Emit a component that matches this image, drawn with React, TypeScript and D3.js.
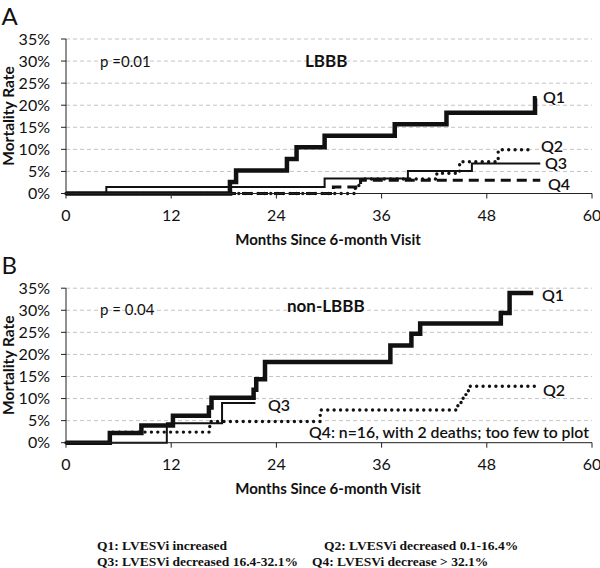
import React from "react";
import * as d3 from "d3";

// ---------- data (months, mortality %) ----------
const monthTicks = [0, 12, 24, 36, 48, 60];
const pctTicks = [0, 5, 10, 15, 20, 25, 30, 35];

// Panel A (LBBB)
const aQ1 = [[0, 0], [18.7, 2.6], [19.4, 5.2], [25.2, 7.8], [26.3, 10.5], [29.5, 13.1], [37.5, 15.7], [43.4, 18.3], [53.5, 21.6], [53.7, 21.6]];
const aQ2 = [[0, 0], [33.0, 1.8], [33.6, 3.3], [42.3, 4.6], [44.9, 7.2], [49.3, 9.9], [53.3, 9.9]];
const aQ3 = [[0, 0], [4.6, 1.5], [29.5, 3.4], [39.0, 5.1], [46.3, 6.8], [54.1, 6.8]];
const aQ4 = [[0, 0], [30.5, 1.5], [33.6, 3.0], [54.1, 3.0]];

// Panel B (non-LBBB)
const bQ1 = [[0, 0], [5.0, 2.2], [8.6, 3.9], [12.2, 6.1], [16.3, 8.0], [16.6, 10.2], [21.4, 12.0], [21.7, 14.4], [22.7, 18.3], [37.0, 22.0], [39.4, 24.7], [40.4, 27.0], [49.6, 29.4], [50.6, 33.9], [53.3, 33.9]];
const bQ2 = [[0, 0], [5.0, 2.4], [16.4, 4.8], [29.0, 7.4], [44.7, 9.1], [45.3, 10.9], [45.9, 12.8], [53.7, 12.8]];
const bQ3 = [[0, 0], [11.5, 4.4], [17.8, 9.0], [21.6, 9.0]];

const legendLines = [
  ["Q1: LVESVi increased", "Q2: LVESVi decreased 0.1-16.4%"],
  ["Q3: LVESVi decreased 16.4-32.1%", "Q4: LVESVi decrease > 32.1%"],
];

const SANS = "Lato, 'Open Sans', sans-serif";
const SERIF = "'Liberation Serif', 'Times New Roman', serif";

type Series = { data: number[][]; kind: "thick" | "thin" | "dot" | "dash" };

function Panel({ top, letter, pText, title, series, labels, note }: any) {
  const x = d3.scaleLinear().domain([0, 60]).range([66, 592]);
  const y = d3.scaleLinear().domain([0, 35]).range([top, top - 154.5]);
  const line = d3
    .line<number[]>()
    .x((d) => x(d[0]))
    .y((d) => y(d[1]))
    .curve(d3.curveStepAfter);
  const styleFor = (k: string) => {
    if (k === "thick") return { strokeWidth: 4.5, strokeDasharray: undefined, strokeLinecap: "butt" };
    if (k === "thin") return { strokeWidth: 2, strokeDasharray: undefined, strokeLinecap: "butt" };
    if (k === "dot") return { strokeWidth: 3.4, strokeDasharray: "0 6.4", strokeLinecap: "round" };
    return { strokeWidth: 3, strokeDasharray: "10 6", strokeLinecap: "butt" };
  };
  return (
    <g>
      <text x={1.5} y={top - 168.5} fontFamily={SANS} fontSize={24} fill="#111">{letter}</text>
      {pctTicks.slice(1).map((t) => (
        <line key={"g" + t} x1={x(0)} x2={x(60)} y1={y(t)} y2={y(t)} stroke="#c4c4c4" strokeWidth={1} strokeDasharray="4 3" />
      ))}
      {series.map((s: Series, i: number) => {
        const st = styleFor(s.kind);
        return (
          <path key={i} d={line(s.data as any) || ""} fill="none" stroke="#111" strokeWidth={st.strokeWidth}
            strokeDasharray={st.strokeDasharray} strokeLinecap={st.strokeLinecap as any} strokeLinejoin="miter" />
        );
      })}
      <line x1={x(0)} x2={x(0)} y1={y(0)} y2={y(35)} stroke="#222" strokeWidth={1} />
      <line x1={x(0)} x2={x(60)} y1={y(0)} y2={y(0)} stroke="#222" strokeWidth={1} />
      {pctTicks.map((t) => (
        <g key={"y" + t}>
          <line x1={x(0) - 5} x2={x(0)} y1={y(t)} y2={y(t)} stroke="#222" />
          <text x={50} y={y(t)} dy="0.36em" textAnchor="end" fontFamily={SANS} fontSize={16} fill="#111">{t}%</text>
        </g>
      ))}
      {monthTicks.map((t) => (
        <g key={"x" + t}>
          <line x1={x(t)} x2={x(t)} y1={y(0)} y2={y(0) + 5} stroke="#222" />
          <text x={x(t)} y={y(0) + 27.5} textAnchor="middle" fontFamily={SANS} fontSize={16} fill="#111">{t}</text>
        </g>
      ))}
      <text x={328} y={y(0) + 51} textAnchor="middle" fontFamily={SANS} fontSize={15} fontWeight="bold" fill="#111">Months Since 6-month Visit</text>
      <text transform={`translate(14,${top - 77.5}) rotate(-90)`} textAnchor="middle" fontFamily={SANS} fontSize={15.5} fontWeight="bold" fill="#111">Mortality Rate</text>
      <text x={100} y={pText.y} fontFamily={SANS} fontSize={15} fill="#111">{pText.text}</text>
      <text x={title.x} y={title.y} fontFamily={SANS} fontSize={17} fontWeight="bold" fill="#111">{title.text}</text>
      {labels.map((l: any) => (
        <text key={l.text} x={l.x} y={l.y} fontFamily={SANS} fontSize={16} fontWeight={600} fill="#111">{l.text}</text>
      ))}
      {note && (
        <text x={note.x} y={note.y} fontFamily={SANS} fontSize={16} fontWeight={600} fill="#111" textLength={280} lengthAdjust="spacingAndGlyphs">{note.text}</text>
      )}
    </g>
  );
}

export default function App() {
  return (
    <svg width={600} height={568} style={{ position: "absolute", left: 0, top: 0, background: "#fff" }}>
      <rect width={600} height={568} fill="#fff" />
      <Panel
        top={193.5}
        letter="A"
        pText={{ text: "p =0.01", y: 67 }}
        title={{ text: "LBBB", x: 305, y: 67 }}
        series={[
          { data: aQ4, kind: "dash" },
          { data: aQ3, kind: "thin" },
          { data: aQ2, kind: "dot" },
          { data: aQ1, kind: "thick" },
        ]}
        labels={[
          { text: "Q1", x: 543, y: 103 },
          { text: "Q2", x: 541, y: 152 },
          { text: "Q3", x: 545, y: 169 },
          { text: "Q4", x: 548, y: 190 },
        ]}
      />
      <Panel
        top={442.7}
        letter="B"
        pText={{ text: "p = 0.04", y: 315 }}
        title={{ text: "non-LBBB", x: 287, y: 312 }}
        series={[
          { data: bQ3, kind: "thin" },
          { data: bQ2, kind: "dot" },
          { data: bQ1, kind: "thick" },
        ]}
        labels={[
          { text: "Q1", x: 542, y: 301 },
          { text: "Q2", x: 543, y: 396 },
          { text: "Q3", x: 268, y: 411 },
        ]}
        note={{ text: "Q4: n=16, with 2 deaths; too few to plot", x: 309, y: 438 }}
      />
      {legendLines.map((row, i) => (
        <g key={i}>
          <text x={97} y={550 + i * 16} fontFamily={SERIF} fontSize={13.5} fontWeight="bold" fill="#111">{row[0]}</text>
          <text x={i === 0 ? 324 : 312} y={550 + i * 16} fontFamily={SERIF} fontSize={13.5} fontWeight="bold" fill="#111">{row[1]}</text>
        </g>
      ))}
    </svg>
  );
}
